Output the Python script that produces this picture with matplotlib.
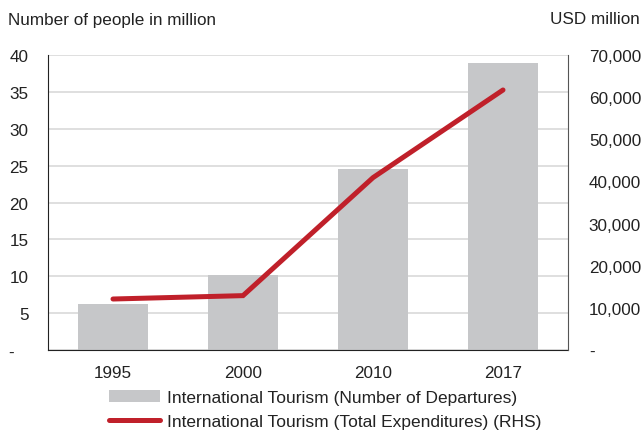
import numpy as np
import matplotlib.pyplot as plt

plt.rcParams['font.family'] = ['Liberation Sans', 'DejaVu Sans']

years = ['1995', '2000', '2010', '2017']
departures = [6.2, 10.2, 24.5, 38.9]          # million people
expenditures = [12100, 12900, 40900, 61700]   # USD million

left_ticks = [0, 5, 10, 15, 20, 25, 30, 35, 40]
left_labels = ['-   '] + [str(t) for t in left_ticks[1:]]
right_ticks = [0, 10000, 20000, 30000, 40000, 50000, 60000, 70000]
right_labels = ['-'] + [f'{t:,}' for t in right_ticks[1:]]

bar_col = '#c6c7c9'
line_col = '#c0202a'
fs = 12.3

fig = plt.figure(figsize=(6.42, 4.31), dpi=100)
ax = fig.add_axes([48/642, 1 - 351/431, (568 - 48)/642, (351 - 56)/431])
x = np.arange(len(years))

bars = ax.bar(x, departures, width=0.54, color=bar_col, zorder=2,
              label='International Tourism (Number of Departures)')
ax.set_xlim(-0.5, 3.5)
ax.set_ylim(0, 40)
ax.set_yticks(left_ticks)
ax.set_yticklabels(left_labels)
ax.set_xticks(x)
ax.set_xticklabels(years)
ax.tick_params(axis='y', length=0, pad=14, labelsize=fs, colors='#222222')
ax.tick_params(axis='x', length=0, pad=11, labelsize=fs, colors='#222222')
ax.grid(axis='y', color='#dcdcdc', lw=1.3, zorder=0)
ax.set_axisbelow(True)
ax.spines['top'].set_visible(False)
ax.spines['right'].set_visible(False)
ax.spines['left'].set_color('#222222')
ax.spines['bottom'].set_color('#222222')

ax2 = ax.twinx()
line, = ax2.plot(x, expenditures, color=line_col, lw=3.6,
                 solid_capstyle='round', solid_joinstyle='miter', zorder=3,
                 label='International Tourism (Total Expenditures) (RHS)')
ax2.set_ylim(0, 70000)
ax2.set_yticks(right_ticks)
ax2.set_yticklabels(right_labels)
ax2.tick_params(axis='y', length=0, pad=15, labelsize=fs, colors='#222222')
for s in ['top', 'left', 'bottom']:
    ax2.spines[s].set_visible(False)
ax2.spines['right'].set_color('#555555')

fig.text(8/642, 1 - 20/431, 'Number of people in million', fontsize=fs,
         va='center', ha='left', color='#222222')
fig.text(640/642, 1 - 20/431, 'USD million', fontsize=fs,
         va='center', ha='right', color='#222222')

fig.legend([bars, line], [bars.get_label(), line.get_label()],
           loc='upper left', bbox_to_anchor=(109/642, 1 - 391/431),
           frameon=False, fontsize=12.5, handlelength=2.95, handletextpad=0.4,
           labelspacing=0.5, borderaxespad=0, borderpad=0,
           labelcolor='#222222')

fig.savefig('out.png', dpi=100)
